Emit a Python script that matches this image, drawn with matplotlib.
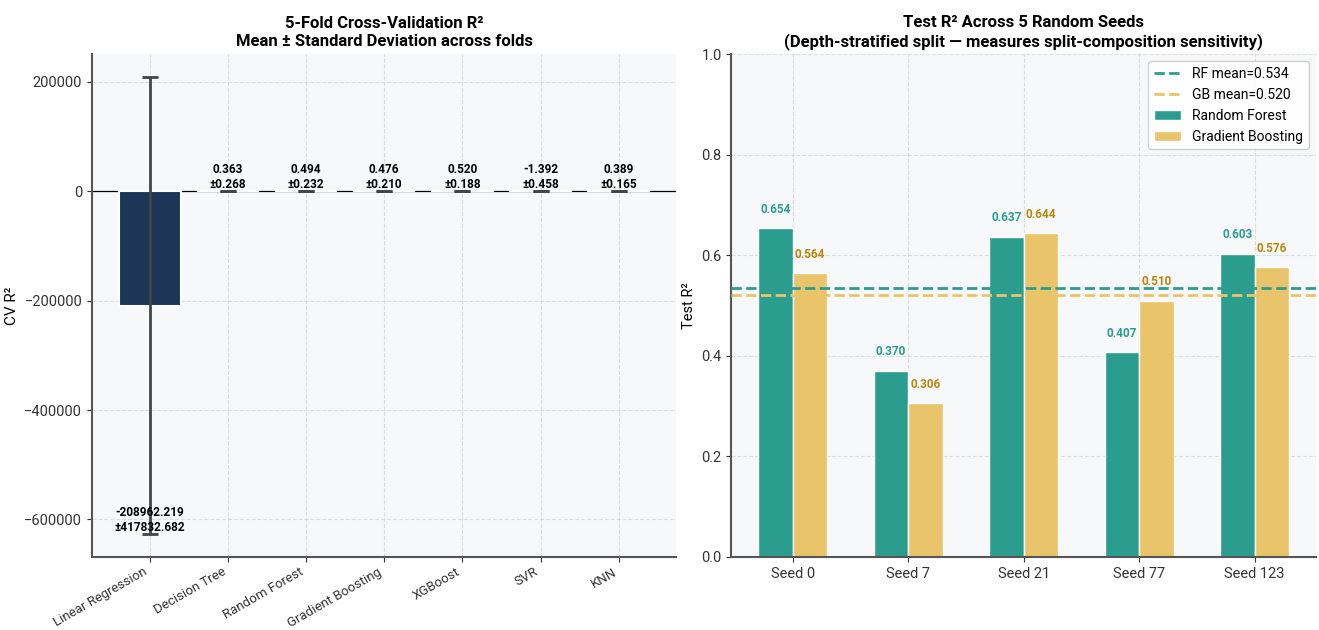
import matplotlib.pyplot as plt
import numpy as np

# 5-fold CV results per model
models = ['Linear Regression', 'Decision Tree', 'Random Forest', 'Gradient Boosting',
          'XGBoost', 'SVR', 'KNN']
cv_mean = [-208962.219, 0.363, 0.494, 0.476, 0.520, -1.392, 0.389]
cv_std = [417832.682, 0.268, 0.232, 0.210, 0.188, 0.458, 0.165]
model_colors = ['#1d3557', '#457b9d', '#2a9d8f', '#e9c46a', '#f4a261', '#e76f51', '#8d99ae']

# test R2 for the two ensembles over several seeds
seeds = ['Seed 0', 'Seed 7', 'Seed 21', 'Seed 77', 'Seed 123']
rf_r2 = [0.654, 0.370, 0.637, 0.407, 0.603]
gb_r2 = [0.564, 0.306, 0.644, 0.510, 0.576]

RF_COLOR = '#2a9d8f'
GB_COLOR = '#e9c46a'
GB_TEXT = '#b8860b'

plt.rcParams['font.family'] = ['Roboto', 'DejaVu Sans']
fig, (ax1, ax2) = plt.subplots(1, 2, figsize=(13.19, 6.3), dpi=100)
fig.subplots_adjust(left=0.0697, right=0.9977, top=0.914, bottom=0.116, wspace=0.094)

for ax in (ax1, ax2):
    ax.set_facecolor('#f7f8fa')
    ax.grid(True, linestyle='--', color='#cccccc', alpha=0.6, linewidth=0.8)
    ax.set_axisbelow(True)
    ax.spines['top'].set_visible(False)
    ax.spines['right'].set_visible(False)
    ax.spines['left'].set_color('#555555')
    ax.spines['bottom'].set_color('#555555')
    ax.spines['left'].set_linewidth(1.5)
    ax.spines['bottom'].set_linewidth(1.5)
    ax.tick_params(labelsize=10.5, colors='#333333')

# left panel
x = np.arange(len(models))
ax1.axhline(0, color='black', linewidth=0.9, zorder=1)
ax1.bar(x, cv_mean, width=0.8, color=model_colors, edgecolor='white', linewidth=1.5,
        yerr=cv_std, capsize=6,
        error_kw=dict(ecolor='#444444', elinewidth=2, capthick=2), zorder=2)
for xi, m, s in zip(x, cv_mean, cv_std):
    y = m - s if m < -1000 else m + s
    ax1.text(xi, y, f'{m:.3f}\n±{s:.3f}', ha='center', va='bottom',
             fontsize=8.5, fontweight='bold', zorder=5)
ax1.set_xticks(x)
ax1.set_xticklabels(models, rotation=30, ha='right', fontsize=9.5)
ax1.tick_params(axis='x', pad=2.5)
ax1.set_ylabel('CV R²', fontsize=11)
ax1.set_title('5-Fold Cross-Validation R²\nMean ± Standard Deviation across folds',
              fontsize=12, fontweight='bold')

# right panel
xs = np.arange(len(seeds))
w = 0.3
ax2.bar(xs - w / 2, rf_r2, width=w, color=RF_COLOR, edgecolor='white', linewidth=1,
        label='Random Forest', zorder=2)
ax2.bar(xs + w / 2, gb_r2, width=w, color=GB_COLOR, edgecolor='white', linewidth=1,
        label='Gradient Boosting', zorder=2)
for xi, r, g in zip(xs, rf_r2, gb_r2):
    ax2.text(xi - w / 2, r + 0.025, f'{r:.3f}', ha='center', va='bottom',
             fontsize=8.5, fontweight='bold', color=RF_COLOR)
    ax2.text(xi + w / 2, g + 0.025, f'{g:.3f}', ha='center', va='bottom',
             fontsize=8.5, fontweight='bold', color=GB_TEXT)
rf_mean = np.mean(rf_r2)
gb_mean = np.mean(gb_r2)
ax2.axhline(rf_mean, color=RF_COLOR, linestyle='--', linewidth=2,
            label=f'RF mean={rf_mean:.3f}', zorder=3)
ax2.axhline(gb_mean, color=GB_COLOR, linestyle='--', linewidth=2,
            label=f'GB mean={gb_mean:.3f}', zorder=3)
ax2.set_ylim(0, 1.0)
ax2.set_xticks(xs)
ax2.set_xticklabels(seeds)
ax2.set_ylabel('Test R²', fontsize=10.5)
ax2.set_title('Test R² Across 5 Random Seeds\n(Depth-stratified split — measures split-composition sensitivity)',
              fontsize=12, fontweight='bold')
ax2.legend(loc='upper right', fontsize=10, framealpha=0.9)

plt.savefig('out.png', dpi=100)
